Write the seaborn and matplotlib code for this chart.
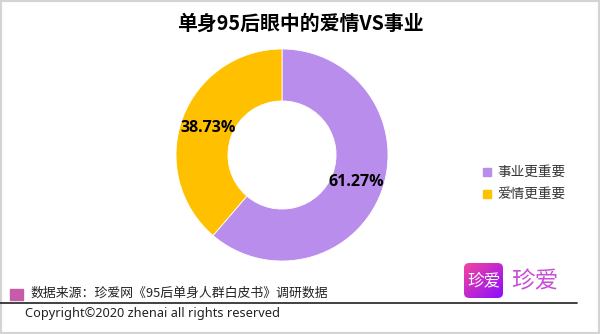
import numpy as np
import pandas as pd
import seaborn as sns
import matplotlib
matplotlib.use("Agg")
import matplotlib.pyplot as plt
from matplotlib.patches import FancyBboxPatch, Rectangle
from matplotlib.lines import Line2D

# ---- data ----
categories = ["事业更重要", "爱情更重要"]
shares = [61.27, 38.73]
colors = ["#B98DEB", "#FFC000"]
title = "单身95后眼中的爱情VS事业"
source_text = "数据来源：珍爱网《95后单身人群白皮书》调研数据"
copyright_text = "Copyright©2020 zhenai all rights reserved"
brand = "珍爱"

df = pd.DataFrame({"category": categories, "share": shares})

sns.set_theme(style="white")
plt.rcParams["font.family"] = ["Noto Sans CJK SC", "DejaVu Sans"]

W, H = 600, 334
fig = plt.figure(figsize=(6, 3.34), dpi=100)
fig.patch.set_facecolor("white")

def fx(x):
    return x / W

def fy(y):
    return 1 - y / H

# border
fig.add_artist(Rectangle((0, 0), 1, 1, transform=fig.transFigure, fill=False,
                         edgecolor="#D4D4D4", linewidth=3))

# donut
cx, cy, r = 282, 155, 106
ax = fig.add_axes([fx(cx - r), fy(cy + r), 2 * r / W, 2 * r / H])
wedges, texts, autotexts = ax.pie(
    df["share"], colors=sns.color_palette(colors), startangle=90, counterclock=False,
    radius=1.0, wedgeprops=dict(width=0.49, edgecolor="white", linewidth=0.6),
    autopct=lambda p: f"{p:.2f}%", pctdistance=0.745)
for t in autotexts:
    t.set_fontfamily(["Open Sans", "DejaVu Sans"])
    t.set_fontweight("bold")
    t.set_fontsize(11.5)
    t.set_color("black")
ax.set_xlim(-1, 1)
ax.set_ylim(-1, 1)
ax.set_aspect("equal")
ax.axis("off")

# title
fig.text(fx(300), fy(23), title, ha="center", va="center", fontsize=14.3,
         fontweight="bold", color="black")

# legend
for i, (cat, col) in enumerate(zip(df["category"], colors)):
    yy = 172 + i * 21.5
    fig.add_artist(Rectangle((fx(483), fy(yy + 4)), 8 / W, 8 / H,
                             transform=fig.transFigure, color=col))
    fig.text(fx(497), fy(yy), cat, ha="left", va="center", fontsize=9.8,
             color="#333333")

# footer
fig.add_artist(Rectangle((fx(10), fy(300)), 13 / W, 11 / H,
                         transform=fig.transFigure, color="#C65BAA"))
fig.text(fx(30), fy(293), source_text, ha="left", va="center", fontsize=9.3,
         color="#222222")
fig.add_artist(Line2D([fx(0), fx(577)], [fy(303), fy(303)], transform=fig.transFigure,
                      color="#333333", linewidth=1.3))
fig.text(fx(25), fy(314), copyright_text, ha="left", va="center", fontsize=9.2,
         color="#222222", family=["Noto Sans", "DejaVu Sans"])

# logo
lx0, lx1, ly0, ly1 = 464, 503, 263, 298
lax = fig.add_axes([fx(lx0), fy(ly1), (lx1 - lx0) / W, (ly1 - ly0) / H])
lax.set_xlim(0, 1)
lax.set_ylim(0, 1)
lax.axis("off")
gx, gy = np.meshgrid(np.linspace(0, 1, 100), np.linspace(0, 1, 100))
tt = np.clip((gx + (1 - gy)) / 2, 0, 1)
c0 = np.array([0.96, 0.27, 0.62])
c1 = np.array([0.55, 0.05, 1.0])
img = c0[None, None, :] * (1 - tt[..., None]) + c1[None, None, :] * tt[..., None]
im = lax.imshow(img, extent=[0, 1, 0, 1], origin="lower", aspect="auto")
clip = FancyBboxPatch((0.0, 0.0), 1.0, 1.0, boxstyle="round,pad=0,rounding_size=0.14",
                      transform=lax.transData, facecolor="none", edgecolor="none")
lax.add_patch(clip)
im.set_clip_path(clip)
lax.text(0.5, 0.5, brand, ha="center", va="center", color="white", fontsize=12,
         fontweight="light")

fig.text(fx(535), fy(282), brand, ha="center", va="center", fontsize=17,
         color="#C94ED6", fontweight="light")

fig.savefig("out.png", dpi=100, facecolor="white")
